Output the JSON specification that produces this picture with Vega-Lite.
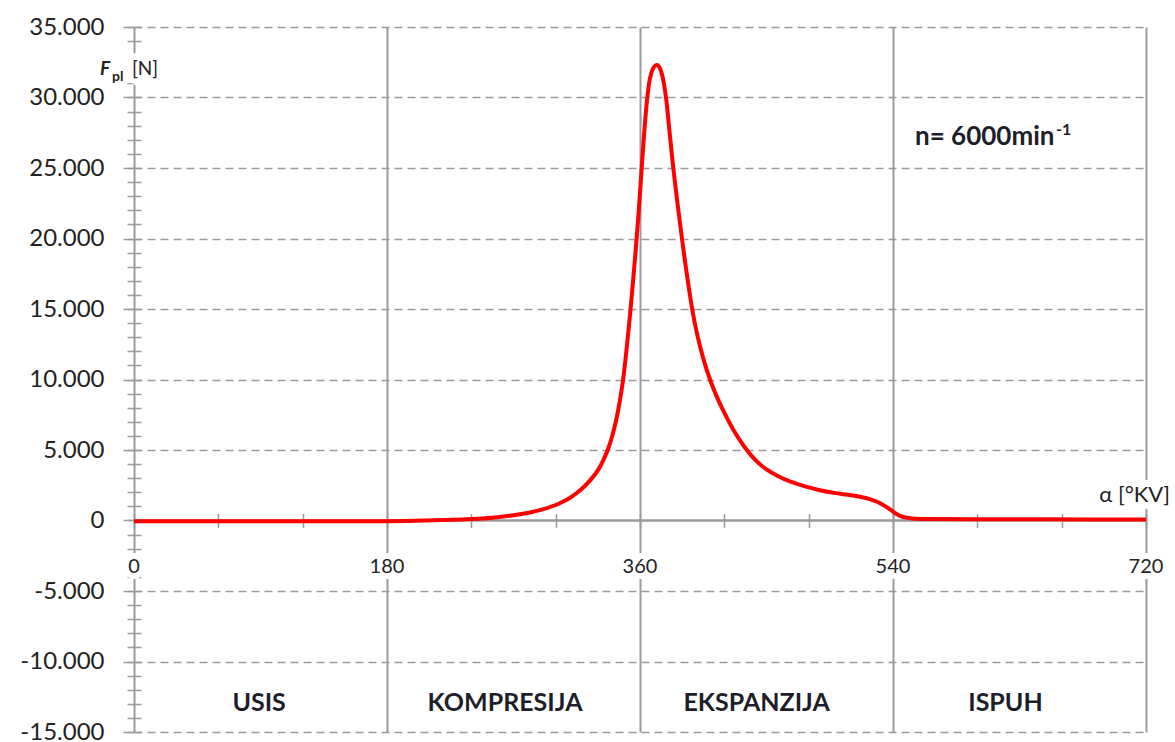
{
  "$schema": "https://vega.github.io/schema/vega-lite/v6.json",
  "width": 1012,
  "height": 705,
  "autosize": {"type": "none"},
  "padding": {"left": 134, "top": 27, "right": 29, "bottom": 10},
  "background": "white",
  "config": {
    "view": {"stroke": null},
    "font": "Lato",
    "text": {"font": "Lato"},
    "locale": {"number": {"decimal": ",", "thousands": ".", "grouping": [3], "currency": ["", " €"], "minus": "-"}}
  },
  "resolve": {"axis": {"x": "independent", "y": "independent"}},
  "layer": [
    {
      "data": {"values": [
        {"a": 0, "f": -60}, {"a": 30, "f": -60}, {"a": 60, "f": -60}, {"a": 90, "f": -60}, {"a": 120, "f": -60},
        {"a": 150, "f": -55}, {"a": 180, "f": -45}, {"a": 200, "f": -15}, {"a": 220, "f": 30}, {"a": 240, "f": 100},
        {"a": 255, "f": 200}, {"a": 270, "f": 370}, {"a": 280, "f": 530}, {"a": 290, "f": 770}, {"a": 300, "f": 1100},
        {"a": 305, "f": 1330}, {"a": 310, "f": 1600}, {"a": 315, "f": 1950}, {"a": 320, "f": 2380}, {"a": 325, "f": 2900},
        {"a": 330, "f": 3550}, {"a": 334, "f": 4300}, {"a": 337, "f": 5000}, {"a": 340, "f": 5900}, {"a": 343, "f": 7100},
        {"a": 345.5, "f": 8400}, {"a": 348, "f": 10000}, {"a": 350.5, "f": 12200}, {"a": 353, "f": 14700}, {"a": 355, "f": 16900},
        {"a": 357.6, "f": 20000}, {"a": 359.5, "f": 22500}, {"a": 361.2, "f": 25000}, {"a": 363, "f": 27500}, {"a": 365.2, "f": 30000},
        {"a": 367, "f": 31300}, {"a": 369, "f": 32000}, {"a": 371, "f": 32280}, {"a": 372.5, "f": 32300}, {"a": 374, "f": 32120},
        {"a": 376, "f": 31500}, {"a": 378.5, "f": 30000}, {"a": 381, "f": 27600}, {"a": 383.7, "f": 25000}, {"a": 386.8, "f": 22400},
        {"a": 390, "f": 19900}, {"a": 393, "f": 17700}, {"a": 396.8, "f": 15200}, {"a": 400, "f": 13500}, {"a": 405, "f": 11500},
        {"a": 410, "f": 9950}, {"a": 415, "f": 8700}, {"a": 420, "f": 7650}, {"a": 426, "f": 6500}, {"a": 431, "f": 5700},
        {"a": 436, "f": 5000}, {"a": 442, "f": 4300}, {"a": 450, "f": 3620}, {"a": 458, "f": 3150}, {"a": 467, "f": 2750},
        {"a": 478, "f": 2400}, {"a": 488, "f": 2150}, {"a": 498, "f": 1960}, {"a": 510, "f": 1790}, {"a": 518, "f": 1650},
        {"a": 524, "f": 1500}, {"a": 529, "f": 1310}, {"a": 533, "f": 1100}, {"a": 537, "f": 850}, {"a": 541, "f": 560},
        {"a": 545, "f": 330}, {"a": 550, "f": 190}, {"a": 556, "f": 130}, {"a": 570, "f": 100}, {"a": 600, "f": 90},
        {"a": 650, "f": 80}, {"a": 720, "f": 70}
      ]},
      "mark": {"type": "line", "color": "#ff0000", "strokeWidth": 4, "interpolate": "catmull-rom"},
      "encoding": {
        "x": {
          "field": "a", "type": "quantitative",
          "scale": {"domain": [0, 720], "nice": false, "zero": false},
          "axis": {
            "orient": "bottom",
            "values": [0, 60, 120, 180, 240, 300, 360, 420, 480, 540, 600, 660, 720],
            "labels": false, "domain": false, "title": null,
            "offset": -218.5, "tickSize": 14, "tickColor": "#9a9a9a", "tickWidth": 1.5,
            "grid": true, "gridColor": "#9a9a9a", "gridWidth": 2,
            "gridOpacity": {"condition": {"test": "datum.value % 180 === 0 && datum.value > 0", "value": 1}, "value": 0}
          }
        },
        "y": {
          "field": "f", "type": "quantitative",
          "scale": {"domain": [-15000, 35000], "nice": false, "zero": false},
          "axis": {
            "orient": "left",
            "values": [-15000, -10000, -5000, 0, 5000, 10000, 15000, 20000, 25000, 30000, 35000],
            "format": ",d", "title": null,
            "labelFontSize": 24, "labelColor": "#222222", "labelPadding": 19, "labelFont": "Lato",
            "tickSize": 11, "tickColor": "#9a9a9a", "tickWidth": 1.5,
            "domainColor": "#9a9a9a", "domainWidth": 2,
            "grid": true, "gridColor": "#9a9a9a",
            "gridWidth": {"condition": {"test": "datum.value === 0", "value": 2.5}, "value": 1.5},
            "gridDash": {"condition": {"test": "datum.value === 0", "value": []}, "value": [8, 5]}
          }
        }
      }
    },
    {
      "data": {"values": [
        {"a": 89, "label": "USIS"}, {"a": 264, "label": "KOMPRESIJA"},
        {"a": 443, "label": "EKSPANZIJA"}, {"a": 620, "label": "ISPUH"}
      ]},
      "mark": {"type": "text", "fontSize": 25, "fontWeight": "bold", "color": "#1e1e2a", "baseline": "alphabetic", "align": "center"},
      "encoding": {
        "x": {"field": "a", "type": "quantitative", "axis": null},
        "y": {
          "datum": -13490, "type": "quantitative",
          "axis": {
            "orient": "left",
            "values": [-15000, -14000, -13000, -12000, -11000, -10000, -9000, -8000, -7000, -6000, -5000, -4000, -3000, -2000, -1000, 0, 1000, 2000, 3000, 4000, 5000, 6000, 7000, 8000, 9000, 10000, 11000, 12000, 13000, 14000, 15000, 16000, 17000, 18000, 19000, 20000, 21000, 22000, 23000, 24000, 25000, 26000, 27000, 28000, 29000, 30000, 31000, 32000, 33000, 34000, 35000],
            "labels": false, "domain": false, "grid": false, "title": null,
            "offset": -7, "tickSize": 14, "tickColor": "#9a9a9a", "tickWidth": 1.5
          }
        },
        "text": {"field": "label"}
      }
    },
    {
      "data": {"values": [{"a": 0}, {"a": 180}, {"a": 360}, {"a": 540}, {"a": 720}]},
      "mark": {"type": "text", "fontSize": 20, "baseline": "alphabetic", "align": "center", "fill": "white", "stroke": "white", "strokeWidth": 12, "strokeJoin": "round"},
      "encoding": {
        "x": {"field": "a", "type": "quantitative", "axis": null},
        "y": {"datum": -3700, "type": "quantitative", "axis": null},
        "text": {"field": "a", "type": "quantitative", "format": "d"}
      }
    },
    {
      "data": {"values": [{"a": 0}, {"a": 180}, {"a": 360}, {"a": 540}, {"a": 720}]},
      "mark": {"type": "text", "fontSize": 20, "baseline": "alphabetic", "align": "center", "color": "#222222"},
      "encoding": {
        "x": {"field": "a", "type": "quantitative", "axis": null},
        "y": {"datum": -3700, "type": "quantitative", "axis": null},
        "text": {"field": "a", "type": "quantitative", "format": "d"}
      }
    },
    {
      "data": {"values": [{"label": "α [°KV]"}]},
      "mark": {"type": "text", "fontSize": 22, "baseline": "alphabetic", "align": "right", "dx": 24, "fill": "white", "stroke": "white", "strokeWidth": 14, "strokeJoin": "round"},
      "encoding": {
        "x": {"datum": 720, "type": "quantitative", "axis": null},
        "y": {"datum": 1333, "type": "quantitative", "axis": null},
        "text": {"field": "label"}
      }
    },
    {
      "data": {"values": [{"label": "α [°KV]"}]},
      "mark": {"type": "text", "fontSize": 22, "baseline": "alphabetic", "align": "right", "dx": 24, "color": "#222222"},
      "encoding": {
        "x": {"datum": 720, "type": "quantitative", "axis": null},
        "y": {"datum": 1333, "type": "quantitative", "axis": null},
        "text": {"field": "label"}
      }
    },
    {
      "data": {"values": [{"label": "F pl [N]"}]},
      "mark": {"type": "text", "fontSize": 20, "baseline": "alphabetic", "align": "left", "dx": -34, "fill": "white", "stroke": "white", "strokeWidth": 16, "strokeJoin": "round"},
      "encoding": {
        "x": {"datum": 0, "type": "quantitative", "axis": null},
        "y": {"datum": 31595, "type": "quantitative", "axis": null},
        "text": {"field": "label"}
      }
    },
    {
      "data": {"values": [{"label": "F"}]},
      "mark": {"type": "text", "fontSize": 19, "fontStyle": "italic", "fontWeight": "bold", "baseline": "alphabetic", "align": "left", "dx": -34, "color": "#222222"},
      "encoding": {
        "x": {"datum": 0, "type": "quantitative", "axis": null},
        "y": {"datum": 31595, "type": "quantitative", "axis": null},
        "text": {"field": "label"}
      }
    },
    {
      "data": {"values": [{"label": "pl"}]},
      "mark": {"type": "text", "fontSize": 14, "fontWeight": "bold", "baseline": "alphabetic", "align": "left", "dx": -22, "dy": 6, "color": "#222222"},
      "encoding": {
        "x": {"datum": 0, "type": "quantitative", "axis": null},
        "y": {"datum": 31595, "type": "quantitative", "axis": null},
        "text": {"field": "label"}
      }
    },
    {
      "data": {"values": [{"label": "[N]"}]},
      "mark": {"type": "text", "fontSize": 19, "baseline": "alphabetic", "align": "left", "dx": -2, "color": "#222222"},
      "encoding": {
        "x": {"datum": 0, "type": "quantitative", "axis": null},
        "y": {"datum": 31595, "type": "quantitative", "axis": null},
        "text": {"field": "label"}
      }
    },
    {
      "data": {"values": [{"label": "n= 6000min"}]},
      "mark": {"type": "text", "fontSize": 26, "fontWeight": "bold", "baseline": "alphabetic", "align": "left", "dx": 22, "color": "#1e1e2a"},
      "encoding": {
        "x": {"datum": 540, "type": "quantitative", "axis": null},
        "y": {"datum": 26630, "type": "quantitative", "axis": null},
        "text": {"field": "label"}
      }
    },
    {
      "data": {"values": [{"label": "-1"}]},
      "mark": {"type": "text", "fontSize": 16, "fontWeight": "bold", "baseline": "alphabetic", "align": "left", "dx": 163, "dy": -10, "color": "#1e1e2a"},
      "encoding": {
        "x": {"datum": 540, "type": "quantitative", "axis": null},
        "y": {"datum": 26630, "type": "quantitative", "axis": null},
        "text": {"field": "label"}
      }
    }
  ]
}
